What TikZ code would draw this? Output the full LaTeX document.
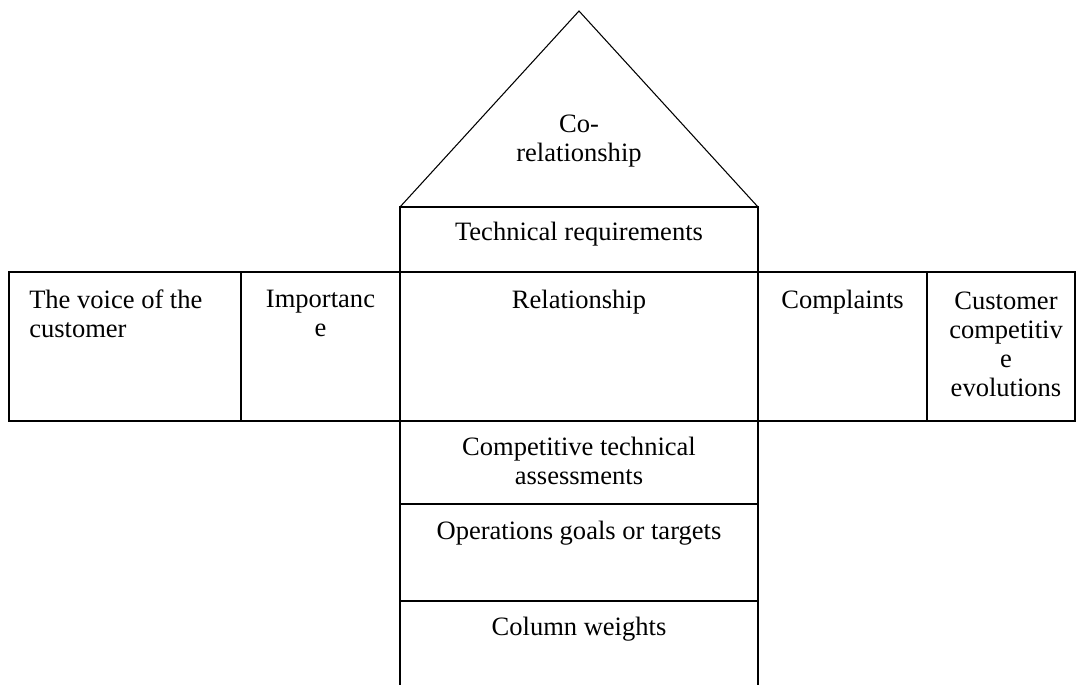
\documentclass[tikz,border=0pt]{standalone}
\usepackage{fontspec}
\setmainfont{Liberation Serif}
\usetikzlibrary{positioning}
\newcommand{\pxu}{0.75pt}

\begin{document}
\begin{tikzpicture}[
    x=\pxu, y=-\pxu,
    cell/.style={
        draw,
        line width=1.1pt,
        rectangle,
        anchor=north west,
        inner sep=0pt,
        outer sep=0pt,
    },
    roof/.style={
        line width=0.8pt,
        line join=miter,
    },
    caption/.style={
        inner sep=0pt,
        align=center,
        font=\fontsize{19.9}{21.75}\selectfont,
    }
]
    \useasboundingbox (0,0) rectangle (1076,685);

    % Cells
    \node[cell, minimum width=358*\pxu, minimum height=65*\pxu] (tech) at (400,207) {};
    \node[cell, minimum width=232*\pxu, minimum height=149*\pxu] (voice) at (9,272) {};
    \node[cell, minimum width=159*\pxu, minimum height=149*\pxu] (imp) at (241,272) {};
    \node[cell, minimum width=358*\pxu, minimum height=149*\pxu] (rel) at (400,272) {};
    \node[cell, minimum width=169*\pxu, minimum height=149*\pxu] (compl) at (758,272) {};
    \node[cell, minimum width=148*\pxu, minimum height=149*\pxu] (cust) at (927,272) {};
    \node[cell, minimum width=358*\pxu, minimum height=83*\pxu] (assess) at (400,421) {};
    \node[cell, minimum width=358*\pxu, minimum height=97*\pxu] (goals) at (400,504) {};
    \node[cell, draw=none, minimum width=358*\pxu, minimum height=84*\pxu] (weights) at (400,601) {};
    \draw[line width=1.1pt] (weights.south west) -- (weights.north west)
        (weights.north east) -- (weights.south east);

    % Roof
    \coordinate (apex) at (579,11);
    \draw[roof] (tech.north west) -- (apex) -- (tech.north east);

    % Captions
    \node[caption, anchor=north] (coRel) at (579,115) {Co-\\relationship};
    \node[caption, below=11.25pt of tech.north] (techText) {Technical requirements};
    \node[caption, align=left, below right=13.5pt and 15pt of voice.north west] (voiceText) {The voice of the\\customer};
    \node[caption, below=13.5pt of imp.north] (impText) {Importanc\\e};
    \node[caption, below=13.5pt of rel.north] (relText) {Relationship};
    \node[caption, below=13.5pt of compl.north] (complText) {Complaints};
    \node[caption, below=15pt of cust.north, xshift=3.75pt] (custText) {Customer\\competitiv\\e\\evolutions};
    \node[caption, below=12pt of assess.north] (assessText) {Competitive technical\\assessments};
    \node[caption, below=12.75pt of goals.north] (goalsText) {Operations goals or targets};
    \node[caption, below=12pt of weights.north] (weightsText) {Column weights};
\end{tikzpicture}
\end{document}
